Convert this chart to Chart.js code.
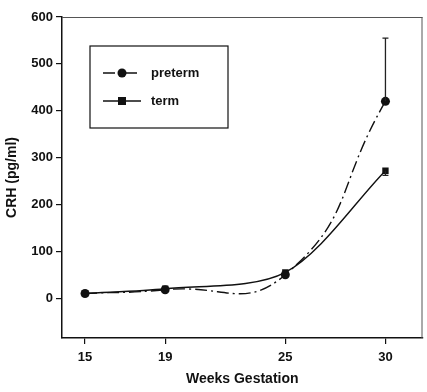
<!DOCTYPE html>
<html>
<head>
<meta charset="utf-8">
<script src="https://cdn.jsdelivr.net/npm/chart.js@4.4.1/dist/chart.umd.min.js"></script>
<style>
  html, body { margin: 0; padding: 0; background: #fff; }
  #wrap { width: 427px; height: 392px; }
</style>
</head>
<body>
<div id="wrap"><canvas id="crhChart"></canvas></div>
<script>
// weeks of gestation and CRH means (pg/ml)
const weeks = [15, 19, 25, 30];
const pretermValues = [10, 18, 50, 420];
const termValues = [10, 20, 55, 272];
// error bar ends (null = no bar drawn)
const pretermUpper = [null, null, null, 555];
const termLower = [null, null, null, 262];
const yTickValues = [0, 100, 200, 300, 400, 500, 600];
const legendLabels = ['preterm', 'term'];

const FONT = '"Liberation Sans", Arial, sans-serif';

const toPoints = (vals) => weeks.map((w, i) => ({ x: w, y: vals[i] }));

// frame, error bars and the boxed legend inside the plot
const extras = {
  id: 'extras',
  afterDatasetsDraw(chart) {
    const { ctx, chartArea: a, scales: { x, y } } = chart;
    ctx.save();

    // top + right frame lines
    ctx.strokeStyle = '#555';
    ctx.lineWidth = 1;
    ctx.beginPath();
    ctx.moveTo(a.left, a.top + 0.5);
    ctx.lineTo(a.right, a.top + 0.5);
    ctx.moveTo(a.right - 0.5, a.top);
    ctx.lineTo(a.right - 0.5, a.bottom);
    ctx.stroke();

    // error bars
    ctx.strokeStyle = '#222';
    ctx.lineWidth = 1.3;
    const bar = (vals, ends) => {
      weeks.forEach((w, i) => {
        if (ends[i] == null) return;
        const px = x.getPixelForValue(w);
        const y0 = y.getPixelForValue(vals[i]);
        const y1 = y.getPixelForValue(ends[i]);
        ctx.beginPath();
        ctx.moveTo(px, y0);
        ctx.lineTo(px, y1);
        ctx.moveTo(px - 3, y1);
        ctx.lineTo(px + 3, y1);
        ctx.stroke();
      });
    };
    bar(pretermValues, pretermUpper);
    bar(termValues, termLower);

    // legend box
    const bx = a.left + 28, by = a.top + 29, bw = 138, bh = 82;
    ctx.strokeStyle = '#111';
    ctx.lineWidth = 1.2;
    ctx.strokeRect(bx, by, bw, bh);

    chart.data.datasets.forEach((ds, i) => {
      const ly = by + 27 + i * 28;
      ctx.strokeStyle = '#111';
      ctx.lineWidth = 1.3;
      ctx.setLineDash(ds.borderDash || []);
      ctx.beginPath();
      ctx.moveTo(bx + 13, ly);
      ctx.lineTo(bx + 51, ly);
      ctx.stroke();
      ctx.setLineDash([]);
      ctx.fillStyle = '#111';
      const mx = bx + 32;
      if (ds.pointStyle === 'rect') {
        ctx.fillRect(mx - 4, ly - 4, 8, 8);
      } else {
        ctx.beginPath();
        ctx.arc(mx, ly, 4.5, 0, Math.PI * 2);
        ctx.fill();
      }
      ctx.font = 'bold 13px ' + FONT;
      ctx.textBaseline = 'middle';
      ctx.textAlign = 'left';
      ctx.fillText(legendLabels[i], bx + 61, ly);
    });

    ctx.restore();
  }
};

new Chart(document.getElementById('crhChart'), {
  type: 'line',
  data: {
    datasets: [
      {
        label: legendLabels[0],
        data: toPoints(pretermValues),
        borderColor: '#111',
        backgroundColor: '#111',
        borderWidth: 1.4,
        borderDash: [12, 4, 2, 4],
        tension: 0.5,
        pointStyle: 'circle',
        pointRadius: 4.5,
        pointBorderWidth: 0
      },
      {
        label: legendLabels[1],
        data: toPoints(termValues),
        borderColor: '#111',
        backgroundColor: '#111',
        borderWidth: 1.4,
        tension: 0.3,
        pointStyle: 'rect',
        pointRadius: 4.5,
        pointBorderWidth: 0
      }
    ]
  },
  options: {
    responsive: true,
    maintainAspectRatio: false,
    animation: false,
    layout: { padding: { top: 17, right: 2, left: 0, bottom: 0 } },
    plugins: { legend: { display: false }, tooltip: { enabled: false } },
    scales: {
      x: {
        type: 'linear',
        min: 13.85,
        max: 31.85,
        afterBuildTicks: (s) => { s.ticks = weeks.map((v) => ({ value: v })); },
        afterFit: (s) => { s.height = 54; },
        border: { display: true, color: '#111', width: 1.5 },
        grid: { drawOnChartArea: false, color: '#111', tickLength: 6, lineWidth: 1.2 },
        ticks: { color: '#111', font: { family: FONT, size: 13, weight: 'bold' }, padding: 6 },
        title: {
          display: true,
          text: 'Weeks Gestation',
          color: '#111',
          font: { family: FONT, size: 14, weight: 'bold' },
          padding: { top: 4 }
        }
      },
      y: {
        min: -85,
        max: 600,
        afterBuildTicks: (s) => { s.ticks = yTickValues.map((v) => ({ value: v })); },
        afterFit: (s) => { s.width = 62; },
        border: { display: true, color: '#111', width: 1.5 },
        grid: { drawOnChartArea: false, color: '#111', tickLength: 6, lineWidth: 1.2 },
        ticks: { color: '#111', font: { family: FONT, size: 13, weight: 'bold' }, padding: 3 },
        title: {
          display: true,
          text: 'CRH (pg/ml)',
          color: '#111',
          font: { family: FONT, size: 14, weight: 'bold' },
          padding: { bottom: 4 }
        }
      }
    }
  },
  plugins: [extras]
});
</script>
</body>
</html>
